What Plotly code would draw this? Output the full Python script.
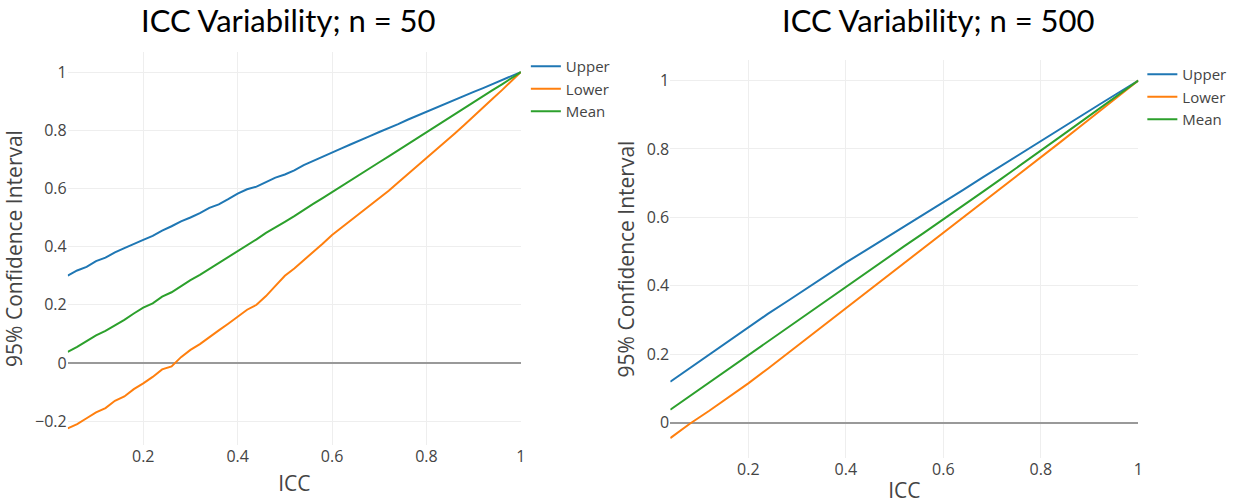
import plotly.graph_objects as go

# ---------------- data ----------------
icc_50 = [0.04, 0.06, 0.08, 0.10, 0.12, 0.14, 0.16, 0.18, 0.20, 0.22, 0.24, 0.26, 0.28, 0.30,
          0.32, 0.34, 0.36, 0.38, 0.40, 0.42, 0.44, 0.46, 0.48, 0.50, 0.52, 0.54, 0.56, 0.58,
          0.60, 0.62, 0.64, 0.66, 0.68, 0.70, 0.72, 0.74, 0.76, 0.78, 0.80, 0.82, 0.84, 0.86,
          0.88, 0.90, 0.92, 0.94, 0.96, 0.98, 1.00]
upper_50 = [0.300, 0.318, 0.330, 0.350, 0.362, 0.380, 0.395, 0.410, 0.423, 0.437, 0.455, 0.470,
            0.487, 0.500, 0.515, 0.533, 0.545, 0.563, 0.582, 0.597, 0.606, 0.622, 0.637, 0.648,
            0.662, 0.680, 0.695, 0.710, 0.725, 0.738, 0.752, 0.765, 0.780, 0.794, 0.807, 0.821,
            0.836, 0.850, 0.864, 0.877, 0.891, 0.905, 0.918, 0.932, 0.945, 0.959, 0.973, 0.986, 1.000]
lower_50 = [-0.225, -0.210, -0.190, -0.170, -0.155, -0.130, -0.115, -0.090, -0.070, -0.048, -0.022,
            -0.012, 0.020, 0.045, 0.065, 0.090, 0.112, 0.135, 0.160, 0.183, 0.200, 0.230, 0.265,
            0.300, 0.325, 0.353, 0.380, 0.410, 0.440, 0.465, 0.490, 0.515, 0.540, 0.565, 0.592,
            0.620, 0.648, 0.675, 0.703, 0.730, 0.760, 0.789, 0.818, 0.847, 0.877, 0.908, 0.938,
            0.969, 1.000]
mean_50 = [0.038, 0.055, 0.075, 0.095, 0.110, 0.128, 0.148, 0.170, 0.190, 0.205, 0.228, 0.243,
           0.265, 0.285, 0.303, 0.323, 0.342, 0.365, 0.385, 0.405, 0.425, 0.447, 0.465, 0.485,
           0.505, 0.527, 0.547, 0.567, 0.588, 0.608, 0.628, 0.648, 0.669, 0.690, 0.710, 0.731,
           0.751, 0.772, 0.793, 0.813, 0.834, 0.855, 0.875, 0.896, 0.917, 0.938, 0.958, 0.979, 1.000]

icc_500 = [0.04, 0.08, 0.12, 0.16, 0.20, 0.24, 0.28, 0.32, 0.36, 0.40, 0.44, 0.48, 0.52,
           0.56, 0.60, 0.64, 0.68, 0.72, 0.76, 0.80, 0.84, 0.88, 0.92, 0.96, 1.00]
upper_500 = [0.120, 0.160, 0.200, 0.240, 0.280, 0.318, 0.355, 0.393, 0.430, 0.468, 0.503, 0.538,
             0.574, 0.609, 0.644, 0.680, 0.716, 0.752, 0.788, 0.824, 0.859, 0.894, 0.930, 0.965, 1.000]
lower_500 = [-0.045, -0.003, 0.035, 0.075, 0.115, 0.158, 0.202, 0.246, 0.290, 0.335, 0.379, 0.423,
             0.467, 0.511, 0.555, 0.599, 0.643, 0.687, 0.731, 0.775, 0.820, 0.865, 0.910, 0.955, 1.000]
mean_500 = [0.038, 0.078, 0.118, 0.158, 0.198, 0.238, 0.278, 0.318, 0.357, 0.397, 0.437, 0.476,
            0.516, 0.555, 0.594, 0.634, 0.674, 0.714, 0.754, 0.795, 0.836, 0.877, 0.918, 0.959, 1.000]

series_names = ["Upper", "Lower", "Mean"]
series_colors = ["#1f77b4", "#ff7f0e", "#2ca02c"]
titles = ["ICC Variability; n = 50", "ICC Variability; n = 500"]
x_ticks = [0.2, 0.4, 0.6, 0.8, 1]
y_ticks = [-0.2, 0, 0.2, 0.4, 0.6, 0.8, 1]
y_tick_text = ["\u22120.2", "0", "0.2", "0.4", "0.6", "0.8", "1"]

W, H = 1233, 504
fig = go.Figure()

for name, col, ys in zip(series_names, series_colors, [upper_50, lower_50, mean_50]):
    fig.add_trace(go.Scatter(x=icc_50, y=ys, mode="lines", name=name,
                             line=dict(color=col, width=2), xaxis="x", yaxis="y",
                             legend="legend"))
for name, col, ys in zip(series_names, series_colors, [upper_500, lower_500, mean_500]):
    fig.add_trace(go.Scatter(x=icc_500, y=ys, mode="lines", name=name,
                             line=dict(color=col, width=2), xaxis="x2", yaxis="y2",
                             legend="legend2"))

def px_x(p):
    return p / W

def px_y(p):
    return 1 - p / H

tick_font = dict(family="Open Sans, sans-serif", size=16, color="#444")
title_font = dict(family="Open Sans, sans-serif", size=21, color="#444")
legend_font = dict(family="Open Sans, sans-serif", size=15, color="#444")

common_x = dict(showgrid=True, gridcolor="#eeeeee", zeroline=False, showline=False,
                ticks="", tickvals=x_ticks, tickfont=tick_font, range=[0.04, 1])
common_y = dict(showgrid=True, gridcolor="#eeeeee", zeroline=True, zerolinecolor="#999999",
                zerolinewidth=2, showline=False, ticks="", tickvals=y_ticks,
                ticktext=y_tick_text, tickfont=tick_font)

fig.update_layout(
    width=W, height=H,
    margin=dict(l=0, r=0, t=0, b=0),
    paper_bgcolor="white", plot_bgcolor="white",
    xaxis=dict(domain=[px_x(68), px_x(523)], anchor="y",
               title=dict(text="ICC", font=title_font, standoff=10), **common_x),
    yaxis=dict(domain=[px_y(445), px_y(52)], anchor="x", range=[-0.282, 1.069],
               title=dict(text="95% Confidence Interval", font=title_font, standoff=6), **common_y),
    xaxis2=dict(domain=[px_x(673), px_x(1143)], anchor="y2",
                title=dict(text="ICC", font=title_font, standoff=8), **common_x),
    yaxis2=dict(domain=[px_y(458), px_y(60)], anchor="x2", range=[-0.103, 1.06],
                title=dict(text="95% Confidence Interval", font=title_font, standoff=6), **common_y),
    legend=dict(x=px_x(528), y=px_y(50), xanchor="left", yanchor="top",
                font=legend_font, bgcolor="rgba(0,0,0,0)"),
    legend2=dict(x=px_x(1147), y=px_y(58), xanchor="left", yanchor="top",
                 font=legend_font, bgcolor="rgba(0,0,0,0)"),
    showlegend=True,
)

for t, cx in zip(titles, [290, 942]):
    fig.add_annotation(text=t, x=px_x(cx), y=px_y(20), xref="paper", yref="paper",
                       xanchor="center", yanchor="middle", showarrow=False,
                       font=dict(family="Lato, Carlito, sans-serif", size=31, color="black"))

fig.write_html("out.html")
